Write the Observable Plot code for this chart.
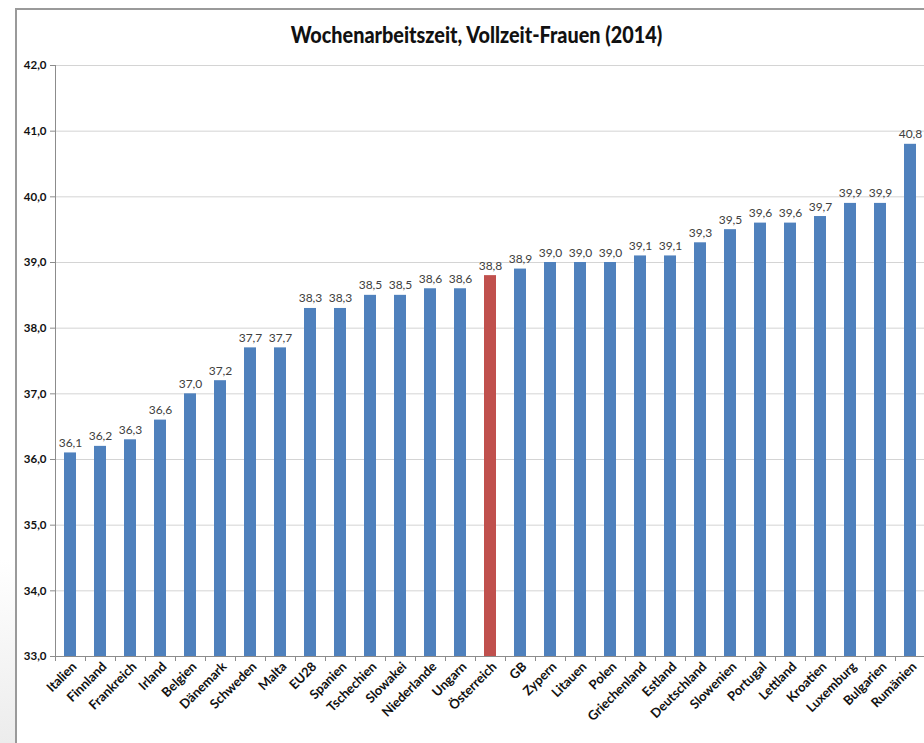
<!DOCTYPE html>
<html>
<head>
<meta charset="utf-8">
<script src="https://cdn.jsdelivr.net/npm/d3@7"></script>
<script src="https://cdn.jsdelivr.net/npm/@observablehq/plot@0.6"></script>
<style>
  html, body { margin: 0; padding: 0; background: #fff; width: 924px; height: 743px; overflow: hidden; }
  body { position: relative; font-family: Lato, "Open Sans", sans-serif; }
  #frame { position: absolute; left: 15px; top: 8px; width: 940px; height: 760px; border-left: 2px solid #9a9a9a; border-top: 2px solid #9a9a9a; }
  #shade { position: absolute; left: 0; top: 560px; width: 15px; height: 183px; background: linear-gradient(to bottom, #ffffff, #ececec); }
  #title { position: relative; height: 55px; box-sizing: border-box; padding-top: 22px; padding-left: 28px; line-height: 26px; text-align: center; font-weight: 900; font-size: 22px; color: #111; }
  #title span { display: inline-block; transform: scaleX(0.9); }
  #chart { position: relative; }
</style>
</head>
<body>
<div id="shade"></div>
<div id="frame"></div>
<div id="title"><span>Wochenarbeitszeit, Vollzeit-Frauen (2014)</span></div>
<div id="chart"></div>
<script>
const countries = ["Italien","Finnland","Frankreich","Irland","Belgien","Dänemark","Schweden","Malta","EU28","Spanien","Tschechien","Slowakei","Niederlande","Ungarn","Österreich","GB","Zypern","Litauen","Polen","Griechenland","Estland","Deutschland","Slowenien","Portugal","Lettland","Kroatien","Luxemburg","Bulgarien","Rumänien"];
const hours = [36.1,36.2,36.3,36.6,37.0,37.2,37.7,37.7,38.3,38.3,38.5,38.5,38.6,38.6,38.8,38.9,39.0,39.0,39.0,39.1,39.1,39.3,39.5,39.6,39.6,39.7,39.9,39.9,40.8];
const highlight = "Österreich";
const yTicks = [33,34,35,36,37,38,39,40,41,42];

const data = countries.map((c, i) => ({country: c, value: hours[i]}));
const fmt = d => d.toFixed(1).replace(".", ",");

const chart = Plot.plot({
  width: 924,
  height: 688,
  marginTop: 10,
  marginBottom: 87,
  marginLeft: 55,
  marginRight: 0,
  style: {fontFamily: "Lato, 'Open Sans', sans-serif", background: "transparent", overflow: "hidden"},
  x: {domain: countries, range: [55, 925], paddingInner: 0.6, paddingOuter: 0.3, label: null},
  y: {domain: [33, 42], label: null},
  marks: [
    Plot.gridY(yTicks, {stroke: "#d4d4d4", strokeOpacity: 1, strokeWidth: 1}),
    Plot.barY(data, {x: "country", y1: 33, y2: "value", fill: d => d.country === highlight ? "#C0504D" : "#4F81BD"}),
    Plot.text(data, {x: "country", y: "value", text: d => fmt(d.value), lineAnchor: "bottom", dy: -6, fontSize: 12, fill: "#404040"}),
    Plot.ruleY([33], {stroke: "#8c8c8c", strokeWidth: 1}),
    Plot.ruleX([countries[0]], {y1: 33, y2: 42, dx: -15, stroke: "#8c8c8c", strokeWidth: 1}),
    Plot.axisY({ticks: yTicks, tickFormat: fmt, tickSize: 5, tickPadding: 4, fontWeight: "bold", fontSize: 11.5, fill: "#111", stroke: "#8c8c8c"}),
    Plot.axisX({tickSize: 5, tickFormat: () => "", dx: -15, stroke: "#8c8c8c"}),
    Plot.axisX({tickSize: 0, tickRotate: -45, tickPadding: 8, dx: 4, fontWeight: "bold", fontSize: 13, fill: "#111", label: null})
  ]
});
document.getElementById("chart").appendChild(chart);
</script>
</body>
</html>
